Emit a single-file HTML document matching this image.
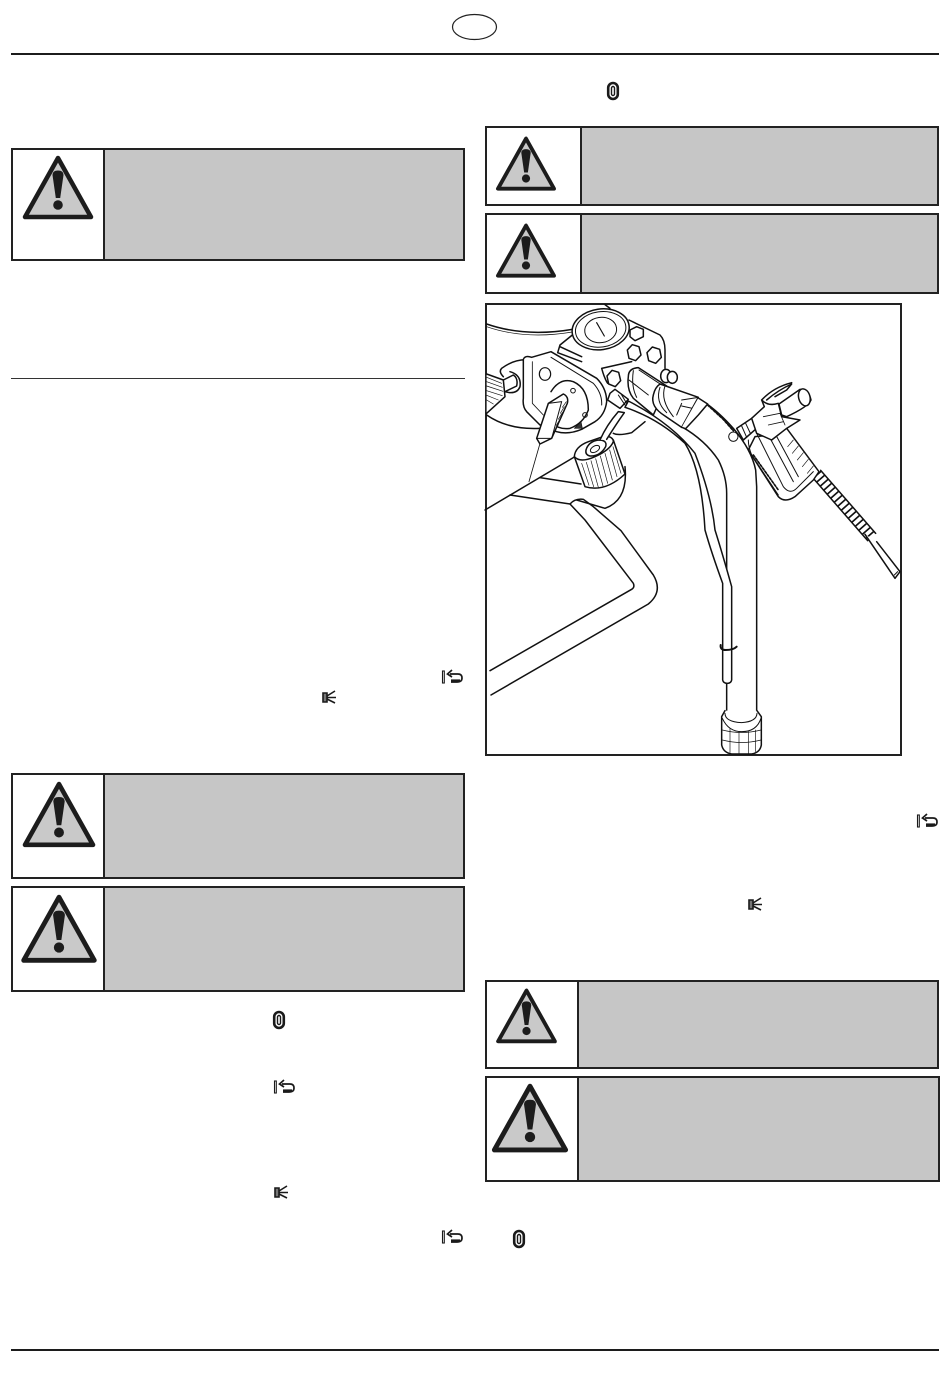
<!DOCTYPE html>
<html>
<head>
<meta charset="utf-8">
<style>
html,body{margin:0;padding:0;background:#fff;width:950px;height:1387px;overflow:hidden}
svg{display:block}
</style>
</head>
<body>
<svg width="950" height="1387" viewBox="0 0 950 1387" xmlns="http://www.w3.org/2000/svg">
<defs>
<g id="w">
  <path d="M0,3 L-33,62 H33 Z" fill="#c9c9c9" stroke="#1c1c1c" stroke-width="4.5" stroke-linejoin="round"/>
  <path d="M-5.5,20 Q-5.5,15.5 0,15.5 Q5.5,15.5 5.5,20 L2.2,43 H-2.2 Z" fill="#1c1c1c"/>
  <circle cx="0" cy="50" r="4.8" fill="#1c1c1c"/>
</g>
<g id="clip" fill="none" stroke="#1a1a1a">
  <rect x="-4.8" y="-8" width="9.6" height="16" rx="4.8" stroke-width="2.6"/>
  <rect x="-1.5" y="-4.5" width="3" height="9" rx="1.5" stroke-width="1.4"/>
</g>
<g id="ret" fill="none" stroke="#1a1a1a">
  <rect x="-10.5" y="-6" width="1.8" height="12" stroke-width="1.1"/>
  <path d="M-3,-3 H5 Q9,-3 9,1 Q9,5 4,5 H-2" stroke-width="1.7"/>
  <path d="M-1,-7 L-5.5,-3 L-1,0" stroke-width="1.7"/>
  <path d="M-2,3.5 H7" stroke-width="2.2"/>
</g>
<g id="spr" fill="none" stroke="#1a1a1a" stroke-width="1.6">
  <path d="M-6,-4 H-2 V5 H-6 Z" fill="#777"/>
  <path d="M-2,-1 L6,-6 M-2,0.5 L7,0.5 M-2,2 L6,6"/>
</g>
</defs>

<rect width="950" height="1387" fill="#fff"/>

<ellipse cx="474.5" cy="27" rx="22" ry="12.5" fill="#fff" stroke="#222" stroke-width="1.2"/>
<rect x="11" y="53" width="928" height="2" fill="#1c1c1c"/>
<rect x="11" y="378" width="454" height="1" fill="#333"/>
<rect x="11" y="1349" width="928" height="2" fill="#1c1c1c"/>

<g stroke="#222" stroke-width="2">
  <rect x="12" y="149" width="452" height="111" fill="#fff"/><rect x="104" y="149" width="360" height="111" fill="#c6c6c6"/>
  <rect x="486" y="127" width="452" height="78" fill="#fff"/><rect x="581" y="127" width="357" height="78" fill="#c6c6c6"/>
  <rect x="486" y="214" width="452" height="79" fill="#fff"/><rect x="581" y="214" width="357" height="79" fill="#c6c6c6"/>
  <rect x="12" y="774" width="452" height="104" fill="#fff"/><rect x="104" y="774" width="360" height="104" fill="#c6c6c6"/>
  <rect x="12" y="887" width="452" height="104" fill="#fff"/><rect x="104" y="887" width="360" height="104" fill="#c6c6c6"/>
  <rect x="486" y="981" width="452" height="87" fill="#fff"/><rect x="578" y="981" width="360" height="87" fill="#c6c6c6"/>
  <rect x="486" y="1077" width="453" height="104" fill="#fff"/><rect x="578" y="1077" width="361" height="104" fill="#c6c6c6"/>
</g>

<use href="#w" transform="translate(58,155)"/>
<use href="#w" transform="translate(526,136) scale(.85)"/>
<use href="#w" transform="translate(526,223) scale(.85)"/>
<use href="#w" transform="translate(59,781) scale(1.03)"/>
<use href="#w" transform="translate(59,894) scale(1.07)"/>
<use href="#w" transform="translate(526.5,988) scale(.86)"/>
<use href="#w" transform="translate(530,1083) scale(1.08)"/>

<use href="#clip" x="613" y="91"/>
<use href="#clip" x="279" y="1020"/>
<use href="#clip" x="519" y="1239"/>
<use href="#ret" x="453" y="677"/>
<use href="#ret" x="928" y="821"/>
<use href="#ret" x="285" y="1087"/>
<use href="#ret" x="453" y="1237"/>
<use href="#spr" x="329" y="697"/>
<use href="#spr" x="755" y="904"/>
<use href="#spr" x="281" y="1192"/>

<rect x="486" y="304" width="415" height="451" fill="#fff" stroke="#222" stroke-width="2"/>

<g transform="translate(485,300) scale(.33333)" fill="none" stroke="#111" stroke-width="4.5" stroke-linejoin="round" stroke-linecap="round">
  <path d="M5,72 Q120,112 262,88"/>
  <path d="M5,80 Q120,120 262,96" stroke-width="2"/>
  <path d="M360,14 L375,25"/>

  <path d="M0,630 L270,470"/>
  <path d="M165,533 L288,552"/>
  <path d="M165,430 L132,545" stroke-width="2.5"/>
  <path d="M75,585 L255,612 L300,660 L445,850 Q450,862 440,868 L15,1112"/>
  <path d="M255,612 Q270,595 295,598 L325,620 L408,692 L505,825 Q535,875 490,912 L18,1185"/>
  <path d="M420,500 Q430,600 360,625 L275,600"/>
  <path d="M385,400 Q400,408 440,398 L480,365"/>

  <path d="M590,380 Q660,420 700,480 Q725,530 725,580 L725,1240"/>
  <path d="M660,308 Q700,335 745,385 Q800,450 812,510 L815,560 L815,1240"/>

  <path d="M262,105 L225,135 L218,158 L290,185 M432,60 L525,105 Q540,120 540,150 V205 M350,205 Q358,235 368,250 M350,205 L440,185 M225,140 L290,170"/>

  <ellipse cx="347" cy="88" rx="86" ry="61" transform="rotate(-8 347 88)" fill="#fff"/>
  <ellipse cx="347" cy="88" rx="76" ry="53" transform="rotate(-8 347 88)" stroke-width="3"/>
  <ellipse cx="347" cy="90" rx="48" ry="38" transform="rotate(-8 347 90)" stroke-width="3"/>
  <path d="M335,68 L358,108" stroke-width="3.5"/>

  <path d="M435,90 L455,80 L475,88 L475,110 L450,122 L435,110 Z" fill="#fff"/>
  <path d="M427,150 L442,134 L462,140 L468,165 L452,182 L432,175 Z" fill="#fff"/>
  <path d="M486,158 L502,141 L524,148 L529,172 L512,190 L491,182 Z" fill="#fff"/>
  <path d="M366,228 L381,211 L401,217 L407,242 L391,260 L371,252 Z" fill="#fff"/>
  <ellipse cx="543" cy="228" rx="16" ry="20" fill="#fff"/>
  <ellipse cx="562" cy="232" rx="15" ry="18" fill="#fff"/>

  <path d="M5,345 Q70,390 165,385"/>
  <path d="M50,205 Q90,175 135,180 M50,205 Q40,215 55,230 M75,215 Q110,225 105,260 Q95,285 60,275"/>
  <path d="M55,240 L85,225 Q100,235 95,258 L60,275" fill="#fff"/>
  <path d="M5,222 L55,240 L60,290 L5,340" fill="#fff"/>
  <g stroke-width="2"><path d="M5,232 L50,250 M5,245 L52,262 M5,258 L54,274 M5,272 L52,287 M5,286 L40,300 M5,300 L25,312"/></g>

  <path d="M115,178 Q120,165 140,172 L198,155 L335,235 Q365,265 365,305 Q360,345 330,365 L290,388 Q250,405 215,395 L165,375 L125,335 Q112,320 115,295 Z" fill="#fff"/>
  <path d="M142,185 V310 L175,345" stroke-width="2.5"/>
  <path d="M198,172 L325,250 Q352,280 350,315" stroke-width="3"/>
  <ellipse cx="180" cy="222" rx="17" ry="19" stroke-width="3.5"/>
  <path d="M198,275 Q225,232 265,245 Q310,265 310,330 Q295,370 255,385 Q225,390 200,370"/>
  <circle cx="264" cy="272" r="7" stroke-width="3"/>
  <circle cx="300" cy="345" r="7" stroke-width="3"/>
  <path d="M268,385 L288,365 L292,385 Z" fill="#333" stroke-width="2"/>

  <path d="M155,415 L190,310 L235,282 Q252,290 247,310 L200,415 L165,432 Z" fill="#fff"/>
  <path d="M190,310 L230,305 L200,415 M155,415 L200,415" stroke-width="3"/>
  <g stroke-width="2"><path d="M232,322 L244,305 M226,340 L238,320 M220,358 L232,338 M214,376 L226,356 M208,394 L220,374"/></g>

  <path d="M430,230 Q430,205 460,203 L545,258 L505,345 L445,295 Q425,270 430,230 Z" fill="#fff"/>
  <path d="M445,212 Q438,260 455,292 M432,240 L490,285 M462,210 L530,255" stroke-width="3"/>
  <path d="M525,252 L640,292 L590,382 L540,348 Q495,320 505,285 Q510,262 525,252 Z" fill="#fff"/>
  <path d="M525,262 Q510,305 545,338 M540,258 Q525,300 565,350" stroke-width="3"/>
  <path d="M590,300 L640,292 M575,345 L590,310 M590,318 L645,330" stroke-width="3"/>
  <path d="M590,382 L602,386 L640,345 L668,312 L640,294" fill="#fff"/>

  <path d="M668,315 L690,335 L715,358 L745,392" stroke-width="5.5" stroke-dasharray="7 5"/>

  <path d="M420,322 Q520,355 600,430 Q650,510 660,690 Q680,760 713,850 L713,1140 Q715,1150 727,1150 Q738,1150 740,1140 L740,860 Q712,760 690,690 Q680,590 630,460 Q560,370 430,303 Z" fill="#fff"/>
  <path d="M375,280 L390,268 L430,298 L405,325 L368,300 Z" fill="#fff"/>
  <path d="M400,285 L420,315 M410,285 L425,310" stroke-width="3"/>
  <path d="M707,1035 Q705,1050 722,1050 Q745,1050 755,1040" stroke-width="6"/>

  <path d="M720,1232 L710,1250 V1335 Q715,1358 740,1362 H800 Q825,1358 829,1335 V1250 L816,1232" fill="#fff"/>
  <path d="M720,1240 Q720,1265 770,1268 Q815,1265 816,1240 M712,1255 Q730,1295 770,1295 Q815,1295 828,1255" stroke-width="3"/>
  <path d="M712,1290 Q770,1305 828,1290 M712,1320 Q770,1335 828,1320" stroke-width="2"/>
  <path d="M735,1285 V1358 M762,1295 V1362 M790,1295 V1362 M812,1290 V1355" stroke-width="2"/>

  <path d="M268,470 L300,560 Q360,578 420,522 L385,420" fill="#fff"/>
  <g stroke-width="2"><path d="M290,490 L312,556 M304,487 L326,560 M318,482 L340,562 M332,476 L354,558 M346,468 L368,550 M360,460 L382,540 M374,450 L396,530 M384,440 L408,520"/></g>
  <path d="M268,470 Q270,440 310,425 L360,408 Q385,410 385,425 Q375,450 330,470 Q285,490 268,470 Z" fill="#fff"/>
  <path d="M303,450 Q310,425 340,420 Q368,420 362,440 Q345,470 315,468 Q300,465 303,450 Z"/>
  <ellipse cx="330" cy="447" rx="15" ry="9" transform="rotate(-30 330 447)" stroke-width="3"/>
  <path d="M345,420 Q365,375 400,335 L418,338 Q395,370 365,418" fill="#fff"/>

  <circle cx="745" cy="410" r="14" fill="#fff" stroke-width="3"/>
  <path d="M755,385 L800,355 L815,385 L775,420 Z" fill="#fff"/>
  <path d="M770,378 L785,412 M782,370 L797,402" stroke-width="3"/>

  <path d="M995,522 L1160,710" stroke-width="30" stroke-dasharray="5 11" stroke-linecap="butt"/>
  <path d="M983,533 L1148,722 M1007,511 L1172,700"/>
  <path d="M1140,703 L1230,835 L1245,815 L1175,725" fill="#fff"/>
  <path d="M1228,825 L1238,815" stroke-width="3"/>

  <path d="M790,450 L880,590 Q900,610 930,590 L985,540 L1002,515 L905,385 L860,405 L810,410 Z" fill="#fff"/>
  <path d="M790,420 Q790,440 800,465 L880,585 M815,400 L895,560 Q915,585 935,565 L985,515" stroke-width="3"/>
  <path d="M850,405 L925,545 M870,400 L940,530" stroke-width="3"/>
  <g stroke-width="2"><path d="M925,420 L908,440 M940,438 L922,460 M955,458 L937,480 M970,478 L952,500 M985,498 L967,520"/></g>
  <path d="M805,465 L880,570" stroke-width="5" stroke-dasharray="7 5"/>
  <path d="M830,300 L838,320 L800,355 L815,400 L860,420 L905,385 L945,360 L890,350 L880,310 Q850,320 830,300 Z" fill="#fff"/>
  <path d="M830,300 Q865,262 920,248 M845,300 Q880,270 920,252 L905,270 L870,290" />
  <path d="M835,350 L885,340 L900,375 M850,375 L895,365" stroke-width="2.5"/>
  <path d="M890,345 L882,312 L945,268 Q972,270 978,300 Q970,320 905,350 Z" fill="#fff"/>
  <ellipse cx="958" cy="292" rx="17" ry="26" transform="rotate(-15 958 292)" fill="#fff"/>
</g>
</svg>
</body>
</html>
